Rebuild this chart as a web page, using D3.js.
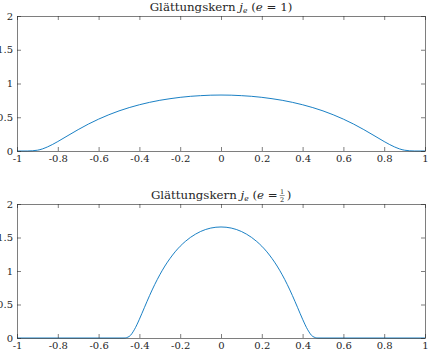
<!DOCTYPE html>
<html>
<head>
<meta charset="utf-8">
<script src="https://cdn.jsdelivr.net/npm/d3@7"></script>
<style>
  body { margin: 0; background: white; }
  svg { display: block; }
  text { font-family: "DejaVu Serif", serif; fill: #262626; }
</style>
</head>
<body>
<svg width="428" height="353"></svg>
<script>
// Glättungskern, e = 1
const xsTop = [-1, -0.95, -0.9, -0.85, -0.8, -0.75, -0.7, -0.65, -0.6, -0.55, -0.5,
  -0.45, -0.4, -0.35, -0.3, -0.25, -0.2, -0.15, -0.1, -0.05, 0,
  0.05, 0.1, 0.15, 0.2, 0.25, 0.3, 0.35, 0.4, 0.45, 0.5,
  0.55, 0.6, 0.65, 0.7, 0.75, 0.8, 0.85, 0.9, 0.95, 1];
const ysTop = [0, 0.0001, 0.0117, 0.0613, 0.140, 0.229, 0.317, 0.399, 0.472, 0.537, 0.594,
  0.643, 0.685, 0.721, 0.751, 0.775, 0.795, 0.810, 0.820, 0.827, 0.829,
  0.827, 0.820, 0.810, 0.795, 0.775, 0.751, 0.721, 0.685, 0.643, 0.594,
  0.537, 0.472, 0.399, 0.317, 0.229, 0.140, 0.0613, 0.0117, 0.0001, 0];

// Glättungskern, e = 1/2
const xsBot = [-1, -0.5, -0.475, -0.45, -0.425, -0.4, -0.375, -0.35, -0.325, -0.3, -0.275, -0.25,
  -0.225, -0.2, -0.175, -0.15, -0.125, -0.1, -0.075, -0.05, -0.025, 0,
  0.025, 0.05, 0.075, 0.1, 0.125, 0.15, 0.175, 0.2, 0.225, 0.25,
  0.275, 0.3, 0.325, 0.35, 0.375, 0.4, 0.425, 0.45, 0.475, 0.5, 1];
const ysBot = [0, 0, 0.0002, 0.023, 0.123, 0.280, 0.458, 0.634, 0.797, 0.944, 1.074, 1.187,
  1.286, 1.370, 1.441, 1.501, 1.550, 1.590, 1.620, 1.641, 1.653, 1.657,
  1.653, 1.641, 1.620, 1.590, 1.550, 1.501, 1.441, 1.370, 1.286, 1.187,
  1.074, 0.944, 0.797, 0.634, 0.458, 0.280, 0.123, 0.023, 0.0002, 0, 0];

const xTicks = [-1, -0.8, -0.6, -0.4, -0.2, 0, 0.2, 0.4, 0.6, 0.8, 1];
const yTicks = [0, 0.5, 1, 1.5, 2];

const svg = d3.select('svg');
const left = 17, right = 425;
const axColor = '#262626';
const tickLen = 4;
const serif = '"DejaVu Serif", serif';
const titleSize = '11.8px';

const x = d3.scaleLinear().domain([-1, 1]).range([left, right]);

function panel(top, bottom, xs, ys, half) {
  const y = d3.scaleLinear().domain([0, 2]).range([bottom, top]);
  const g = svg.append('g');

  g.append('path')
    .datum(xs.map((v, i) => [v, ys[i]]))
    .attr('fill', 'none')
    .attr('stroke', '#0072BD')
    .attr('stroke-width', 0.9)
    .attr('d', d3.line().x(d => x(d[0])).y(d => y(d[1])).curve(d3.curveMonotoneX));

  const fmt = d => String(d);
  g.append('g').attr('transform', `translate(0,${bottom})`)
    .call(d3.axisBottom(x).tickValues(xTicks).tickFormat(fmt).tickSizeInner(-tickLen).tickSizeOuter(0).tickPadding(4));
  g.append('g').attr('transform', `translate(0,${top})`)
    .call(d3.axisTop(x).tickValues(xTicks).tickFormat('').tickSizeInner(-tickLen).tickSizeOuter(0));
  g.append('g').attr('transform', `translate(${left},0)`)
    .call(d3.axisLeft(y).tickValues(yTicks).tickFormat(fmt).tickSizeInner(-tickLen).tickSizeOuter(0).tickPadding(4));
  g.append('g').attr('transform', `translate(${right},0)`)
    .call(d3.axisRight(y).tickValues(yTicks).tickFormat('').tickSizeInner(-tickLen).tickSizeOuter(0));

  g.selectAll('.domain').attr('stroke', axColor).attr('stroke-width', 0.6);
  g.selectAll('.tick line').attr('stroke', axColor).attr('stroke-width', 0.6);
  g.selectAll('g[font-family]').attr('font-family', serif).attr('font-size', 10);
  g.selectAll('.tick text').attr('fill', axColor);

  // title
  const tg = g.append('g');
  const base = top - 5;
  const t = tg.append('text').attr('x', 0).attr('y', base).style('font-size', titleSize);
  t.append('tspan').text('Glättungskern ');
  t.append('tspan').attr('font-style', 'italic').text('j');
  t.append('tspan').attr('font-style', 'italic').attr('font-size', '7.5px').attr('dy', 2).text('e');
  t.append('tspan').attr('dy', -2).text(' (');
  t.append('tspan').attr('font-style', 'italic').text('e');
  t.append('tspan').text(half ? ' = ' : ' = 1)');
  let w = t.node().getComputedTextLength();
  if (half) {
    const fx = w + 4.5;
    tg.append('text').attr('x', fx).attr('y', base - 5).attr('text-anchor', 'middle')
      .style('font-size', '6.5px').text('1');
    tg.append('line').attr('x1', fx - 2.5).attr('x2', fx + 2.5)
      .attr('y1', base - 3.5).attr('y2', base - 3.5)
      .attr('stroke', axColor).attr('stroke-width', 0.5);
    tg.append('text').attr('x', fx).attr('y', base + 2.5).attr('text-anchor', 'middle')
      .style('font-size', '6.5px').text('2');
    tg.append('text').attr('x', fx + 4.5).attr('y', base).style('font-size', titleSize).text(')');
    w = fx + 4.5 + 4.5;
  }
  tg.attr('transform', `translate(${(left + right) / 2 - w / 2},0)`);
}

panel(16, 151, xsTop, ysTop, false);
panel(204, 338, xsBot, ysBot, true);
</script>
</body>
</html>
